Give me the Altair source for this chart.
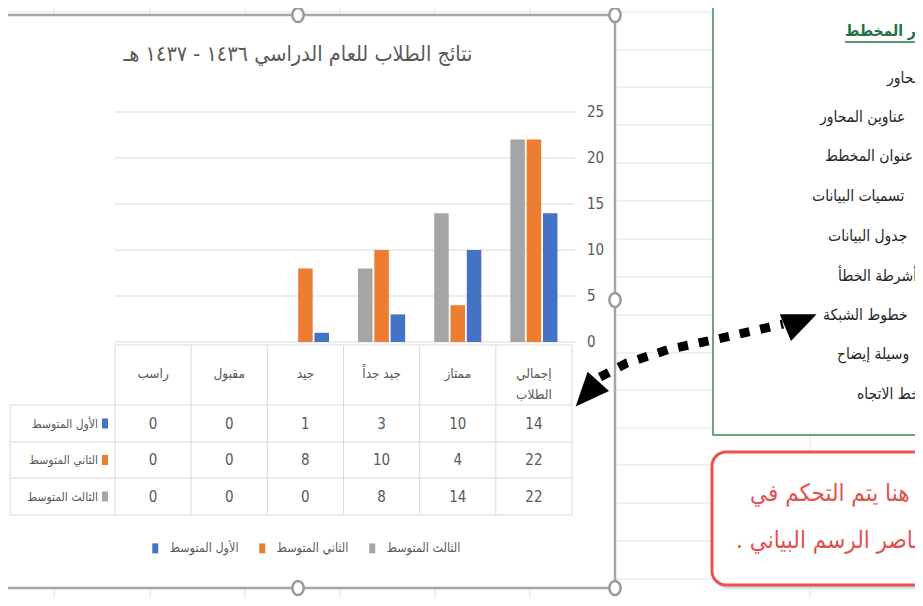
import altair as alt
import pandas as pd

# ---------------- data ----------------
categories = ["إجمالي الطلاب", "ممتاز", "جيد جداً", "جيد", "مقبول", "راسب"]
header_labels = ["إجمالي\nالطلاب", "ممتاز", "جيد جداً", "جيد", "مقبول", "راسب"]
series = ["الأول المتوسط", "الثاني المتوسط", "الثالث المتوسط"]
first_values = [14, 10, 3, 1, 0, 0]
second_values = [22, 4, 10, 8, 0, 0]
third_values = [22, 14, 8, 0, 0, 0]
colors = ["#4472c4", "#ed7d31", "#a5a5a5"]
y_ticks = [0, 5, 10, 15, 20, 25]
title_text = "نتائج الطلاب للعام الدراسي ١٤٣٦ - ١٤٣٧ هـ"
panel_title = "عناصر المخطط"
panel_items = ["المحاور", "عناوين المحاور", "عنوان المخطط", "تسميات البيانات",
               "جدول البيانات", "أشرطة الخطأ", "خطوط الشبكة", "وسيلة إيضاح", "خط الاتجاه"]
callout_lines = ["من هنا يتم التحكم في", "عناصر الرسم البياني .\u200f"]

# ---------------- layout (pixel helpers, page margin 8) ----------------
O = 8
def P(v):
    return v - O

AR = "DejaVu Sans Condensed, DejaVu Sans, sans-serif"
NUM = "Liberation Sans Narrow, DejaVu Sans Condensed, sans-serif"
TXT = "#595959"
GRID = "#d9d9d9"
SHEET = "#e3e3e3"
RECT_PATH = "M-0.6,-1H0.6V1H-0.6Z"

rows = []
for s, vals in zip(series, [first_values, second_values, third_values]):
    for c, v in zip(categories, vals):
        rows.append({"cat": c, "series": s, "value": v})
df = pd.DataFrame(rows)

x_scale = alt.Scale(type="band", domain=categories[::-1], range=[P(115), P(572)],
                    paddingInner=0, paddingOuter=0)
xoff_scale = alt.Scale(domain=[series[2], series[1], series[0]], paddingInner=0.11, paddingOuter=0.89)
y_scale = alt.Scale(domain=[0, 25], range=[P(342), P(112)], nice=False, zero=False)
row_scale = alt.Scale(type="point", domain=series, range=[P(423.5), P(496.5)], padding=0)
color_scale = alt.Scale(domain=series, range=colors)

def seg_chart(segs, color, width=1.0, dash=None):
    d = pd.DataFrame(segs, columns=["x", "x2", "y", "y2"])
    mk = dict(color=color, strokeWidth=width)
    if dash:
        mk["strokeDash"] = dash
    return alt.Chart(d).mark_rule(**mk).encode(
        x=alt.X("x:Q", scale=None), x2="x2:Q",
        y=alt.Y("y:Q", scale=None), y2="y2:Q")

def rect_chart(x, x2, y, y2, **mk):
    d = pd.DataFrame({"x": [P(x)], "x2": [P(x2)], "y": [P(y)], "y2": [P(y2)]})
    return alt.Chart(d).mark_rect(**mk).encode(
        x=alt.X("x:Q", scale=None), x2="x2:Q",
        y=alt.Y("y:Q", scale=None), y2="y2:Q")

# ---------------- spreadsheet background ----------------
sheet_rows = [12, 50, 87, 125, 163, 201, 239, 277, 315, 353, 390, 428, 465, 503, 541, 579]
sheet_cols = [54, 150, 245, 340, 435, 530, 810]
sheet = seg_chart([(P(0), P(923), P(y), P(y)) for y in sheet_rows] +
                  [(P(x), P(x), P(0), P(606)) for x in sheet_cols], SHEET)

frame = rect_chart(-4, 615, 15, 588, fill="white", stroke="#a6a6a6", strokeWidth=2.5)
panel = rect_chart(713, 960, 5, 435, fill="white", stroke="#3a8a55", strokeWidth=1.5)
call_shadow = rect_chart(715, 963, 456, 589, fill="#cfcfcf", cornerRadius=14, opacity=0.7)
callout = rect_chart(712, 960, 452, 585, fill="white", stroke="#e8524f", strokeWidth=3, cornerRadius=14)

# ---------------- chart ----------------
grid = alt.Chart(pd.DataFrame({"v": y_ticks})).mark_rule(color=GRID).encode(
    y=alt.Y("v:Q", scale=y_scale, axis=None), x=alt.value(P(115)), x2=alt.value(P(575)))
ylabels = alt.Chart(pd.DataFrame({"v": y_ticks})).mark_text(
    align="left", baseline="middle", font=NUM, fontSize=15, color=TXT).encode(
    y=alt.Y("v:Q", scale=y_scale, axis=None), x=alt.value(P(587)), text="v:Q")
bars = alt.Chart(df).mark_bar().encode(
    x=alt.X("cat:N", scale=x_scale, axis=None),
    xOffset=alt.XOffset("series:N", scale=xoff_scale),
    y=alt.Y("value:Q", scale=y_scale, axis=None),
    color=alt.Color("series:N", scale=color_scale, legend=alt.Legend(
        orient="none", legendX=P(149), legendY=P(542), direction="horizontal", title=None,
        symbolType=RECT_PATH, symbolSize=100, symbolStrokeWidth=0, symbolOpacity=1,
        labelFont=AR, labelFontSize=12.5, labelColor=TXT, labelOffset=8,
        columnPadding=17, padding=0)),
)
chart_part = alt.layer(grid, bars, ylabels)

# data table
table_lines = seg_chart(
    [(P(115), P(572), P(345), P(345))] +
    [(P(10), P(572), P(y), P(y)) for y in [405, 442, 478, 515]] +
    [(P(10), P(10), P(405), P(515))], GRID)
cat_df = pd.DataFrame({"cat": categories, "label": header_labels})
col_rules = alt.Chart(cat_df).mark_rule(color=GRID).encode(
    x=alt.X("cat:N", scale=x_scale, axis=None, bandPosition=0),
    y=alt.value(P(345)), y2=alt.value(P(515)))
right_rule = alt.Chart(cat_df.head(1)).mark_rule(color=GRID).encode(
    x=alt.X("cat:N", scale=x_scale, axis=None, bandPosition=1),
    y=alt.value(P(345)), y2=alt.value(P(515)))
headers = alt.Chart(cat_df).mark_text(
    font=AR, fontSize=13.5, color=TXT, lineBreak="\n", lineHeight=21, baseline="middle").encode(
    x=alt.X("cat:N", scale=x_scale, axis=None), y=alt.value(P(374)), text="label:N")

table_text = alt.Chart(df).mark_text(font=NUM, fontSize=15, color=TXT, baseline="middle").encode(
    x=alt.X("cat:N", scale=x_scale, axis=None),
    y=alt.Y("series:N", scale=row_scale, axis=None), text="value:Q")
ser_df = pd.DataFrame({"series": series})
row_labels = alt.Chart(ser_df).mark_text(
    align="right", baseline="middle", font=AR, fontSize=12, color=TXT).encode(
    x=alt.value(P(98)), y=alt.Y("series:N", scale=row_scale, axis=None), text="series:N")
swatches = alt.Chart(ser_df).mark_point(shape=RECT_PATH, size=100, filled=True, opacity=1).encode(
    x=alt.value(P(105)), y=alt.Y("series:N", scale=row_scale, axis=None),
    color=alt.Color("series:N", scale=color_scale, legend=None))
table_part = alt.layer(table_text, row_labels, swatches)

title = alt.Chart(pd.DataFrame({"t": [title_text]})).mark_text(
    font=AR, fontSize=21.5, color=TXT, baseline="middle").encode(
    x=alt.value(P(298)), y=alt.value(P(55)), text="t:N")

# ---------------- side panel & callout text ----------------
panel_x = [887, 820, 825, 812, 828, 838, 823, 837, 857]
panel_y = [78, 117, 156, 196, 236, 276, 315, 354, 394]
panel_df = pd.DataFrame({"t": panel_items, "x": [P(v) for v in panel_x], "y": [P(v) for v in panel_y]})
panel_text = alt.Chart(panel_df).mark_text(
    align="left", baseline="middle", font=AR, fontSize=15.5, color="#262626").encode(
    x=alt.X("x:Q", scale=None), y=alt.Y("y:Q", scale=None), text="t:N")
ptitle_df = pd.DataFrame({"t": [panel_title], "x": [P(845)], "y": [P(31)]})
panel_title_txt = alt.Chart(ptitle_df).mark_text(
    align="left", baseline="middle", font=AR, fontSize=15.5, fontWeight="bold", color="#217346").encode(
    x=alt.X("x:Q", scale=None), y=alt.Y("y:Q", scale=None), text="t:N")
underline = seg_chart([(P(845), P(925), P(42), P(42))], "#217346", 1.5)

call_df = pd.DataFrame({"t": callout_lines, "x": [P(750), P(736)], "y": [P(494), P(541)]})
call_text = alt.Chart(call_df).mark_text(
    align="left", baseline="middle", font=AR, fontSize=24, color="#e0524f").encode(
    x=alt.X("x:Q", scale=None), y=alt.Y("y:Q", scale=None), text="t:N")

# ---------------- arrow ----------------
arrow_pts = pd.DataFrame({"x": [P(v) for v in [600, 627, 670, 713, 757, 783]],
                          "y": [P(v) for v in [377, 363, 349, 340, 330, 324]]})
arrow_line = alt.Chart(arrow_pts).mark_line(
    color="black", strokeWidth=9, strokeDash=[10, 11], strokeCap="butt").encode(
    x=alt.X("x:Q", scale=None), y=alt.Y("y:Q", scale=None))
heads = pd.DataFrame({"x": [P(587), P(801)], "y": [P(394), P(321)], "a": [222, 67]})
arrow_heads = alt.Chart(heads).mark_point(
    shape="M0,-1L0.85,1L-0.85,1Z", size=1150, filled=True, color="black", opacity=1).encode(
    x=alt.X("x:Q", scale=None), y=alt.Y("y:Q", scale=None), angle=alt.Angle("a:Q", scale=None))

# ---------------- handles ----------------
hdl = pd.DataFrame({"x": [P(v) for v in [298, 615, 615, 298, 615]],
                    "y": [P(v) for v in [15, 15, 300, 588, 588]]})
handles = alt.Chart(hdl).mark_point(
    shape="M0,-1A0.8,1 0 1,1 0,1A0.8,1 0 1,1 0,-1Z", size=200, filled=True,
    fill="white", stroke="#9a9a9a", strokeWidth=2.5, opacity=1).encode(
    x=alt.X("x:Q", scale=None), y=alt.Y("y:Q", scale=None))

chart = alt.layer(
    sheet, frame, panel, call_shadow, callout,
    chart_part, table_lines, col_rules, right_rule, headers, table_part, title,
    panel_title_txt, underline, panel_text, call_text,
    arrow_line, arrow_heads, handles,
).resolve_scale(y="independent").properties(
    width=907, height=590, padding=0,
    autosize=alt.AutoSizeParams(type="none"), background="white",
).configure_view(stroke=None)

chart.save("out.html", embed_options={"renderer": "svg", "actions": False})
